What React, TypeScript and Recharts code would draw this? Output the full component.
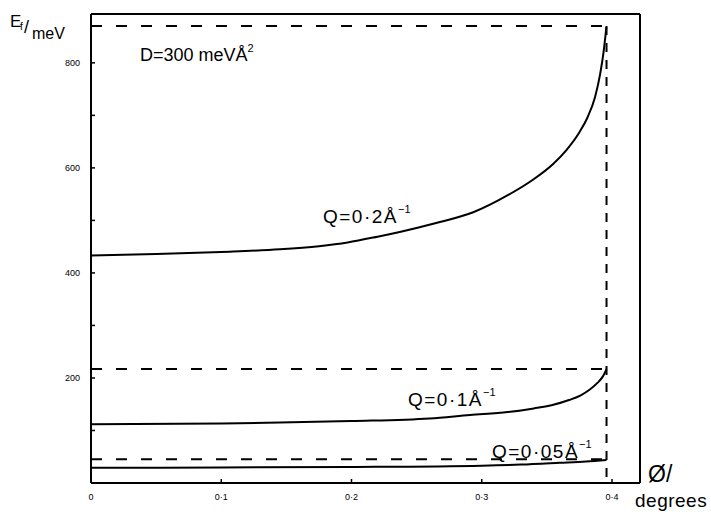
import React from 'react';
import { LineChart, Line, XAxis, YAxis } from 'recharts';

// Angle phi (degrees) and final energy E_f (meV)
const q02Phi = [0, 0.05, 0.1, 0.145, 0.175, 0.197, 0.22, 0.237, 0.265, 0.293, 0.32, 0.339, 0.355, 0.365, 0.375, 0.381, 0.387, 0.391, 0.3935, 0.3957];
const q02E = [433, 436, 440, 445, 451, 458, 469, 478, 495, 515, 548, 577, 608, 634, 668, 695, 735, 780, 820, 868];

const q01Phi = [0, 0.1, 0.145, 0.2, 0.26, 0.291, 0.32, 0.34, 0.355, 0.367, 0.376, 0.383, 0.389, 0.393, 0.3958];
const q01E = [112, 113.5, 115, 118, 123, 129.5, 135, 142, 149, 158, 167, 178, 191, 203, 217];

const q005Phi = [0, 0.1, 0.2, 0.3, 0.33, 0.36, 0.38, 0.3958];
const q005E = [29, 29.5, 30.5, 33, 35, 38.5, 41, 44];

// Dashed limits
const limitE = [870, 217, 45];
const phiMax = 0.3958;

const xTicks = [0, 0.1, 0.2, 0.3, 0.4];
const xTickLabels = ['0', '0·1', '0·2', '0·3', '0·4'];
const yTicks = [100, 200, 300, 400, 500, 600, 700, 800];
const yLabelled = [200, 400, 600, 800];

const toPts = (xs: number[], ys: number[]) => xs.map((phi, i) => ({ phi, E: ys[i] }));

const curves = [toPts(q02Phi, q02E), toPts(q01Phi, q01E), toPts(q005Phi, q005E)];
const limits = limitE.map((E) => [
  { phi: 0, E },
  { phi: phiMax, E },
]);
const vertical = [
  { phi: phiMax, E: limitE[0] },
  { phi: phiMax, E: 0 },
];

const FONT = '"Liberation Sans", Arial, sans-serif';
const axisStyle = { stroke: '#000', strokeWidth: 2 };
const tickStyle = { stroke: '#000', strokeWidth: 1.5 };

const YTick = (props: any) => {
  const { x, y, payload } = props;
  if (!yLabelled.includes(payload.value)) return <g />;
  return (
    <text x={x} y={y} dy="0.355em" textAnchor="end" fontSize={9} fontFamily={FONT} fill="#000">
      {payload.value}
    </text>
  );
};

const XTick = (props: any) => {
  const { x, y, payload } = props;
  const i = xTicks.indexOf(payload.value);
  return (
    <text x={x} y={y} dy="0.71em" textAnchor="middle" fontSize={9} fontFamily={FONT} fill="#000">
      {i >= 0 ? xTickLabels[i] : ''}
    </text>
  );
};

export default function App() {
  return (
    <div style={{ position: 'absolute', left: 0, top: 0, width: 711, height: 512, background: '#fff' }}>
      <LineChart width={711} height={512} margin={{ top: 13, right: 70, bottom: 0, left: 0 }}>
        <XAxis
          xAxisId="b"
          type="number"
          dataKey="phi"
          domain={[0, 0.4215]}
          allowDataOverflow
          ticks={xTicks}
          height={29}
          axisLine={axisStyle}
          tickLine={tickStyle}
          tickSize={-4}
          tickMargin={15}
          tick={<XTick />}
        />
        <XAxis
          xAxisId="t"
          orientation="top"
          type="number"
          dataKey="phi"
          domain={[0, 0.4215]}
          allowDataOverflow
          ticks={[0.1, 0.2, 0.3, 0.4]}
          height={1}
          axisLine={axisStyle}
          tickLine={tickStyle}
          tickSize={-4}
          tick={false}
        />
        <YAxis
          yAxisId="l"
          type="number"
          domain={[0, 893]}
          allowDataOverflow
          ticks={yTicks}
          width={91}
          axisLine={axisStyle}
          tickLine={tickStyle}
          tickSize={-4}
          tickMargin={15}
          tick={<YTick />}
        />
        <YAxis
          yAxisId="r"
          orientation="right"
          type="number"
          domain={[0, 893]}
          allowDataOverflow
          ticks={yTicks}
          width={1}
          axisLine={axisStyle}
          tickLine={tickStyle}
          tickSize={-4}
          tick={false}
        />
        {curves.map((d, i) => (
          <Line
            key={'c' + i}
            xAxisId="b"
            yAxisId="l"
            data={d}
            dataKey="E"
            type="monotone"
            stroke="#000"
            strokeWidth={2}
            dot={false}
            isAnimationActive={false}
          />
        ))}
        {limits.map((d, i) => (
          <Line
            key={'l' + i}
            xAxisId="b"
            yAxisId="l"
            data={d}
            dataKey="E"
            type="linear"
            stroke="#000"
            strokeWidth={2}
            strokeDasharray="11 14"
            dot={false}
            isAnimationActive={false}
          />
        ))}
        <Line
          xAxisId="b"
          yAxisId="l"
          data={vertical}
          dataKey="E"
          type="linear"
          stroke="#000"
          strokeWidth={2}
          strokeDasharray="9 8"
          dot={false}
          isAnimationActive={false}
        />
      </LineChart>
      <svg
        width={711}
        height={512}
        style={{ position: 'absolute', left: 0, top: 0, pointerEvents: 'none' }}
        fontFamily={FONT}
        fill="#000"
      >
        <text x={10} y={27} fontSize={17}>E</text>
        <text x={20} y={30} fontSize={10}>f</text>
        <text x={24} y={33} fontSize={18}>/</text>
        <text x={32} y={39} fontSize={16}>meV</text>

        <text x={140} y={61} fontSize={18}>
          D=300 meVÅ
          <tspan dy={-9} fontSize={11}>2</tspan>
        </text>

        <text x={323} y={223} fontSize={19} letterSpacing={1.5}>
          Q=0·2Å
          <tspan dy={-10} fontSize={11} letterSpacing={0}>−1</tspan>
        </text>
        <text x={408} y={406} fontSize={19} letterSpacing={1.5}>
          Q=0·1Å
          <tspan dy={-10} fontSize={11} letterSpacing={0}>−1</tspan>
        </text>
        <text x={492} y={458} fontSize={19} letterSpacing={1.5}>
          Q=0·05Å
          <tspan dy={-10} fontSize={11} letterSpacing={0}>−1</tspan>
        </text>

        <text x={648} y={482} fontSize={23}>Ø/</text>
        <text x={635} y={507} fontSize={19} letterSpacing={0.5}>degrees</text>
      </svg>
    </div>
  );
}
